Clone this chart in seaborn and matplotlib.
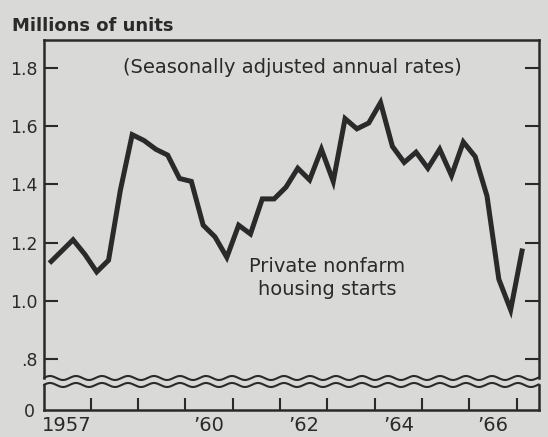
import numpy as np
import pandas as pd
import matplotlib
matplotlib.use("Agg")
import matplotlib.pyplot as plt
from matplotlib.lines import Line2D
import seaborn as sns

# ---- data (quarterly, seasonally adjusted annual rates, millions of units) ----
start_year = 1957
quarters_per_year = 4
starts = [1.13, 1.17, 1.21, 1.16, 1.10, 1.14, 1.38, 1.57, 1.55, 1.52,
          1.50, 1.42, 1.41, 1.26, 1.22, 1.15, 1.26, 1.23, 1.35, 1.35,
          1.39, 1.455, 1.415, 1.52, 1.41, 1.625, 1.59, 1.61, 1.68, 1.53,
          1.475, 1.51, 1.455, 1.52, 1.43, 1.545, 1.495, 1.36, 1.075, 0.97,
          1.18]
ytick_vals = [0.8, 1.0, 1.2, 1.4, 1.6, 1.8]
ytick_labels = [".8", "1.0", "1.2", "1.4", "1.6", "1.8"]
year_ticks = list(range(1958, 1968))
xlabel_pos = [1957.5, 1960.5, 1962.5, 1964.5, 1966.5]
xlabel_txt = ["1957", "\u201960", "\u201962", "\u201964", "\u201966"]

t = [start_year + (i + 0.5) / quarters_per_year for i in range(len(starts))]
df = pd.DataFrame({"year": t, "starts": starts})

# ---- style ----
BG = "#d9d9d7"
INK = "#2a2a2a"
sns.set_theme(style="white", rc={"axes.facecolor": BG, "figure.facecolor": BG})
plt.rcParams["font.family"] = ["DejaVu Sans"]

W, H = 548, 437
fig = plt.figure(figsize=(W / 100, H / 100), dpi=100)

def fx(px):
    return px / W

def fy(py):
    return 1 - py / H

left_px, right_px = 43.5, 538.8
top_px, brk_hi, brk_lo, bot_px = 39.5, 378, 385, 410

ax = fig.add_axes([fx(left_px), fy(brk_hi), fx(right_px) - fx(left_px), fy(top_px) - fy(brk_hi)])
axb = fig.add_axes([fx(left_px), fy(bot_px), fx(right_px) - fx(left_px), fy(brk_lo) - fy(bot_px)])

sns.lineplot(data=df, x="year", y="starts", ax=ax, color=INK, linewidth=3.6,
             solid_joinstyle="miter", solid_capstyle="butt")

xlim = (1957.0, 1967.47)
ax.set_xlim(*xlim)
axb.set_xlim(*xlim)
ax.set_ylim(0.7366, 1.896)
axb.set_ylim(0, 0.0856)

for a in (ax, axb):
    a.set_xlabel("")
    a.set_ylabel("")
    for s in a.spines.values():
        s.set_color(INK)
        s.set_linewidth(1.8)

ax.spines["bottom"].set_visible(False)
axb.spines["top"].set_visible(False)

# top axes ticks
ax.set_yticks(ytick_vals)
ax.set_yticklabels(ytick_labels)
ax.set_xticks([])
ax.tick_params(axis="y", which="major", direction="in", length=10, width=1.5,
               color=INK, left=True, right=True, labelleft=True, labelright=False,
               labelsize=12.5, labelcolor=INK, pad=4)

# bottom axes ticks
axb.set_yticks([0])
axb.set_yticklabels(["0"])
axb.tick_params(axis="y", which="major", length=0, labelsize=12.5, labelcolor=INK, pad=6)
axb.set_xticks(year_ticks)
axb.set_xticklabels([""] * len(year_ticks))
axb.set_xticks(xlabel_pos, minor=True)
axb.set_xticklabels(xlabel_txt, minor=True)
axb.tick_params(axis="x", which="major", direction="in", length=8.5, width=1.5,
                color=INK, bottom=True, top=False)
axb.tick_params(axis="x", which="minor", length=0, labelsize=14, labelcolor=INK, pad=4)

# wavy break lines
xs = np.linspace(left_px + 0.5, right_px, 800)
for y0 in (brk_hi, brk_lo):
    ys = y0 - 2.0 * np.sin(2 * np.pi * (xs - left_px) / 26.0)
    fig.add_artist(Line2D(fx(xs), fy(ys), transform=fig.transFigure,
                          color=INK, linewidth=1.5))

# texts
fig.text(fx(12), fy(31), "Millions of units", ha="left", va="baseline",
         fontsize=13, fontweight="bold", color=INK)
ax.text(0.502, 0.901, "(Seasonally adjusted annual rates)", transform=ax.transAxes,
        ha="center", va="baseline", fontsize=14, color=INK)
ax.text(0.572, 0.314, "Private nonfarm", transform=ax.transAxes,
        ha="center", va="baseline", fontsize=14, color=INK)
ax.text(0.572, 0.245, "housing starts", transform=ax.transAxes,
        ha="center", va="baseline", fontsize=14, color=INK)

fig.savefig("out.png", dpi=100, facecolor=BG)
